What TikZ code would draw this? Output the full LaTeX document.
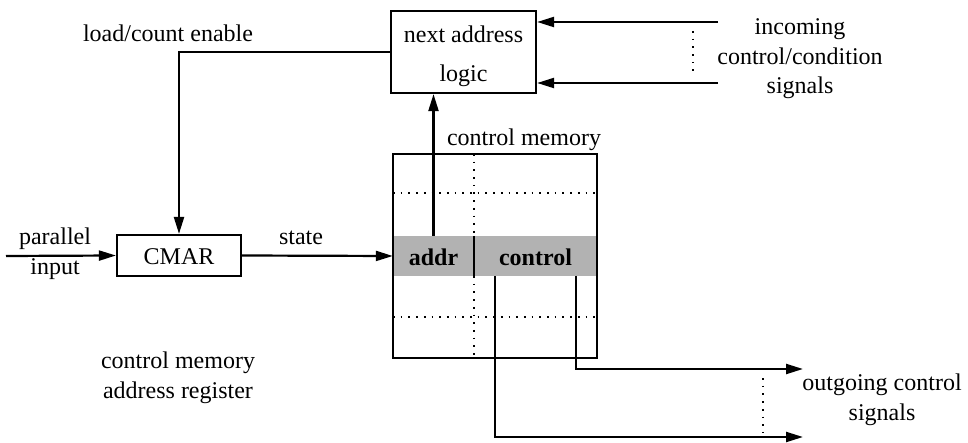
\documentclass[tikz,border=0pt]{standalone}
\usepackage{fontspec}
\setmainfont{Liberation Serif}
\newfontfamily\tfont{Liberation Serif}
\usetikzlibrary{arrows.meta}
\begin{document}
\begin{tikzpicture}[x=1pt,y=-1pt,
  wire/.style={line width=2.2pt},
  arr/.style={wire,-{Triangle[length=17pt,width=10pt]}},
  box/.style={draw,line width=2.2pt,rectangle,inner sep=0pt},
  dots/.style={line width=1.7pt,dash pattern=on 1.7pt off 6pt},
  lbl/.style={font=\tfont\fontsize{24}{28}\selectfont,inner sep=0pt,anchor=base},
  blbl/.style={font=\tfont\fontsize{24}{28}\selectfont\bfseries,inner sep=0pt,anchor=base}]
\useasboundingbox (0,0) rectangle (968,443);
% next address logic
\node[box,minimum width=145pt,minimum height=82pt] (nal) at (463.5,52) {};
\node[lbl] (t1) at (463.5,43) {next address};
\node[lbl] (t2) at (463.5,82) {logic};
% CMAR
\node[box,minimum width=124pt,minimum height=41pt] (cmar) at (179,255.5) {};
\node[lbl] (t3) at (179,265) {CMAR};
% control memory
\node[minimum width=204pt,minimum height=204pt,inner sep=0pt] (cm) at (495,256) {};
\node[fill=black!30,minimum width=81pt,minimum height=40pt,inner sep=0pt] (addr) at (433.5,256) {};
\node[fill=black!30,minimum width=123pt,minimum height=40pt,inner sep=0pt] (ctrl) at (535.5,256) {};
\draw[wire] (cm.north west) rectangle (cm.south east);
\draw[dots] (474,154) -- (474,236);
\draw[dots] (474,276) -- (474,358);
\draw[dots] (393,193) -- (597,193);
\draw[dots] (393,317) -- (597,317);
\draw[wire] (addr.north east) -- (addr.south east);
\node[blbl] (t4) at (433.5,266) {addr};
\node[blbl] (t5) at (535.5,266) {control};
\node[lbl] (t6) at (524,146) {control memory};
% connectors
\draw[arr] (addr.north) -- (addr.north |- nal.south);
\draw[arr] (nal.west) -| (cmar.north);
\coordinate (pin) at (6,256);
\draw[arr] (pin) -- (cmar.west);
\draw[arr] (cmar.east) -- (addr.west);
\coordinate (in1) at (718,22);
\coordinate (in2) at (718,83);
\draw[arr] (in1) -- (in1 -| nal.east);
\draw[arr] (in2) -- (in2 -| nal.east);
\draw[dots] (693,31) -- (693,75);
\coordinate (o1) at (576,276);
\coordinate (o2) at (495,276);
\coordinate (e1) at (803,369);
\coordinate (e2) at (803,437);
\draw[arr] (o1) |- (e1);
\draw[arr] (o2) |- (e2);
\draw[dots] (763,378) -- (763,432);
% labels
\node[lbl] (l1) at (168,42) {load/count enable};
\node[lbl] (l2) at (55,245) {parallel};
\node[lbl] (l3) at (55,275) {input};
\node[lbl] (l4) at (301,245) {state};
\node[lbl] (l5) at (178,368) {control memory};
\node[lbl] (l6) at (178,398) {address register};
\node[lbl] (l7) at (800,35) {incoming};
\node[lbl] (l8) at (800,65) {control/condition};
\node[lbl] (l9) at (800,94) {signals};
\node[lbl] (l10) at (882,390) {outgoing control};
\node[lbl] (l11) at (882,420) {signals};
\end{tikzpicture}
\end{document}
